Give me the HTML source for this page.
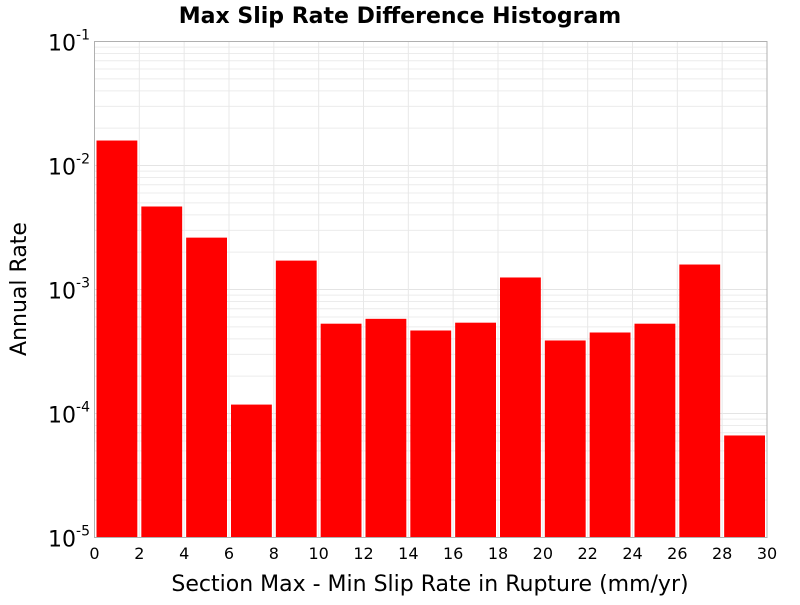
<!DOCTYPE html>
<html><head><meta charset="utf-8"><style>
body{margin:0;background:#fff;width:800px;height:600px;overflow:hidden;font-family:"Liberation Sans","DejaVu Sans",sans-serif}
</style></head><body>
<svg id="chart" width="800" height="600" xmlns="http://www.w3.org/2000/svg">
<text x="400" y="23" text-anchor="middle" font-size="22" font-weight="bold" font-family="DejaVu Sans, sans-serif">Max Slip Rate Difference Histogram</text>
<text transform="translate(26,289) rotate(-90)" text-anchor="middle" font-size="22" font-family="DejaVu Sans, sans-serif">Annual Rate</text>
<text x="430" y="591" text-anchor="middle" font-size="22" font-family="DejaVu Sans, sans-serif">Section Max - Min Slip Rate in Rupture (mm/yr)</text>
<g id="grid"></g>
<g id="bars"></g>
<g id="axes"></g>
</svg>
<script>
const binStarts = [0,2,4,6,8,10,12,14,16,18,20,22,24,26,28];
const binWidth = 2;
const rates = [0.0159,0.00467,0.00262,1.18e-4,0.00171,5.3e-4,5.8e-4,4.67e-4,5.4e-4,1.25e-3,3.88e-4,4.5e-4,5.3e-4,1.59e-3,6.65e-5];
const xTicks = [0,2,4,6,8,10,12,14,16,18,20,22,24,26,28,30];
const yExps = [-5,-4,-3,-2,-1];

const L=94.5,R=767,T=41.5,B=537.5;
const NS='http://www.w3.org/2000/svg';
const xs=v=>L+(v-0)/30*(R-L);
const ys=v=>B-(Math.log10(v)+5)/4*(B-T);
function mk(tag,attrs,parent){const e=document.createElementNS(NS,tag);for(const k in attrs)e.setAttribute(k,attrs[k]);parent.appendChild(e);return e;}
const grid=document.getElementById('grid'),bars=document.getElementById('bars'),axes=document.getElementById('axes');
for(let e=-5;e<-1;e++){for(let m=2;m<=9;m++){const y=ys(m*Math.pow(10,e));
 const l=mk('line',{x1:L,x2:R,y1:y,y2:y,stroke:'#ececec','stroke-width':1},grid);
 
 }}
yExps.forEach(e=>{const y=ys(Math.pow(10,e));
 const l=mk('line',{x1:L,x2:R,y1:y,y2:y,stroke:'#e4e4e4','stroke-width':1},grid);
 
 
 const t=mk('text',{x:90,y:y+9,'text-anchor':'end','font-size':22,'font-family':'DejaVu Sans, sans-serif'},axes);
 
 
 t.textContent='10';
 const s=mk('tspan',{dy:-11,'font-size':14},t);s.textContent=String(e);});
xTicks.forEach(v=>{const x=xs(v);
 const l=mk('line',{x1:x,x2:x,y1:T,y2:B,stroke:'#e8e8e8','stroke-width':1},grid);
 
 
 const t=mk('text',{x:x,y:559,'text-anchor':'middle','font-size':16,'font-family':'DejaVu Sans, sans-serif'},axes);
 
 
 t.textContent=String(v);});
binStarts.forEach((s,i)=>{const x0=xs(s)+2,x1=xs(s+binWidth)-2,y=ys(rates[i]);
 const r=mk('rect',{x:x0,y:y,width:x1-x0,height:B-y,fill:'#ff0000'},bars);
 
 });
const f=mk('rect',{x:L,y:T,width:R-L,height:B-T,fill:'none',stroke:'#b0b0b0','stroke-width':1},axes);


</script>
</body></html>
